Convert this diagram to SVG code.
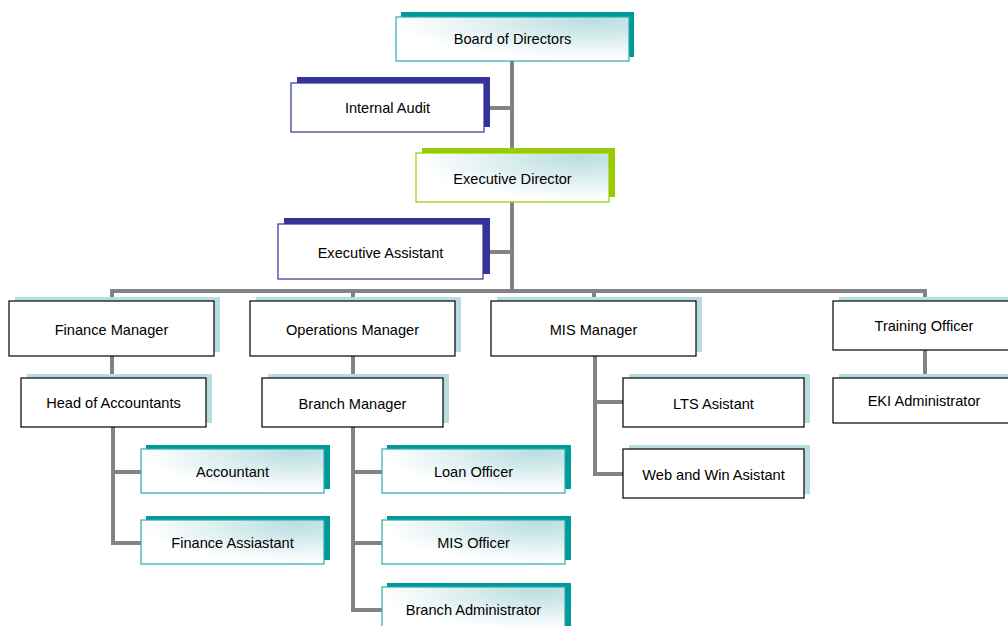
<svg xmlns="http://www.w3.org/2000/svg" width="1008" height="626" viewBox="0 0 1008 626">
<defs>
<radialGradient id="g" cx="0.85" cy="0.1" r="0.85">
<stop offset="0" stop-color="#BADEE1"/>
<stop offset="1" stop-color="#FFFFFF"/>
</radialGradient>
</defs>
<style>
text{font-family:"Liberation Sans",Arial,sans-serif;font-size:14.6px;fill:#000;text-anchor:middle}
.ln{fill:none;stroke:#838383;stroke-width:4;stroke-linejoin:miter}
.sT{fill:#009999}
.fT{fill:url(#g);stroke:#2FA9A9;stroke-width:1.2}
.sB{fill:#333399}
.fB{fill:#fff;stroke:#333399;stroke-width:1.2}
.sG{fill:#99CC00}
.fG{fill:url(#g);stroke:#99CC00;stroke-width:1.2}
.sL{fill:#B8DDE0}
.fK{fill:#fff;stroke:#000;stroke-width:1.2}
</style>
<rect width="1008" height="626" fill="#fff"/>
<g id="connectors">
<line class="ln" x1="512" y1="61" x2="512" y2="291"/>
<line class="ln" x1="484" y1="108" x2="512" y2="108"/>
<line class="ln" x1="483" y1="252" x2="512" y2="252"/>
<polyline class="ln" points="112,301 112,291 925,291 925,301"/>
<line class="ln" x1="353" y1="291" x2="353" y2="301"/>
<line class="ln" x1="594" y1="291" x2="594" y2="301"/>
<line class="ln" x1="112" y1="356" x2="112" y2="378"/>
<polyline class="ln" points="113,427 113,543 141,543"/>
<line class="ln" x1="113" y1="472" x2="141" y2="472"/>
<line class="ln" x1="353" y1="356" x2="353" y2="378"/>
<polyline class="ln" points="353,427 353,610 382,610"/>
<line class="ln" x1="353" y1="472" x2="382" y2="472"/>
<line class="ln" x1="353" y1="543" x2="382" y2="543"/>
<polyline class="ln" points="595,356 595,474 623,474"/>
<line class="ln" x1="595" y1="402" x2="623" y2="402"/>
<line class="ln" x1="925" y1="350" x2="925" y2="378"/>
</g>
<g id="board"><rect class="sT" x="401" y="12" width="233" height="45"/><rect class="fT" x="396" y="17" width="233" height="44"/><text x="512.5" y="44">Board of Directors</text></g>
<g id="internal-audit"><rect class="sB" x="297" y="77" width="193" height="50"/><rect class="fB" x="291" y="83" width="193" height="49"/><text x="387.5" y="113">Internal Audit</text></g>
<g id="executive-director"><rect class="sG" x="422" y="148" width="193" height="49"/><rect class="fG" x="416" y="153" width="193" height="49"/><text x="512.5" y="184">Executive Director</text></g>
<g id="executive-assistant"><rect class="sB" x="284" y="218" width="206" height="56"/><rect class="fB" x="278" y="224" width="205" height="55"/><text x="380.5" y="258">Executive Assistant</text></g>
<g id="finance-manager"><rect class="sL" x="15" y="297" width="205" height="55"/><rect class="fK" x="9" y="301" width="205" height="55"/><text x="111.5" y="335">Finance Manager</text></g>
<g id="operations-manager"><rect class="sL" x="256" y="297" width="205" height="55"/><rect class="fK" x="250" y="301" width="205" height="55"/><text x="352.5" y="335">Operations Manager</text></g>
<g id="mis-manager"><rect class="sL" x="497" y="297" width="205" height="55"/><rect class="fK" x="491" y="301" width="205" height="55"/><text x="593.5" y="335">MIS Manager</text></g>
<g id="training-officer"><rect class="sL" x="839" y="297" width="184" height="49"/><rect class="fK" x="833" y="301" width="184" height="49"/><text x="924" y="331">Training Officer</text></g>
<g id="head-of-accountants"><rect class="sL" x="27" y="374" width="185" height="49"/><rect class="fK" x="21" y="378" width="185" height="49"/><text x="113.5" y="408">Head of Accountants</text></g>
<g id="branch-manager"><rect class="sL" x="268" y="374" width="181" height="49"/><rect class="fK" x="262" y="378" width="181" height="49"/><text x="352.5" y="409">Branch Manager</text></g>
<g id="lts-asistant"><rect class="sL" x="629" y="374" width="181" height="49"/><rect class="fK" x="623" y="378" width="181" height="49"/><text x="713.5" y="409">LTS Asistant</text></g>
<g id="web-win-asistant"><rect class="sL" x="629" y="445" width="181" height="49"/><rect class="fK" x="623" y="449" width="181" height="49"/><text x="713.5" y="480">Web and Win Asistant</text></g>
<g id="eki-administrator"><rect class="sL" x="839" y="374" width="184" height="45"/><rect class="fK" x="833" y="378" width="184" height="45"/><text x="924" y="406">EKI Administrator</text></g>
<g id="accountant"><rect class="sT" x="146" y="445" width="184" height="44"/><rect class="fT" x="141" y="449" width="183" height="44"/><text x="232.5" y="477">Accountant</text></g>
<g id="finance-assiastant"><rect class="sT" x="146" y="516" width="184" height="44"/><rect class="fT" x="141" y="520" width="183" height="44"/><text x="232.5" y="548">Finance Assiastant</text></g>
<g id="loan-officer"><rect class="sT" x="387" y="445" width="184" height="44"/><rect class="fT" x="382" y="449" width="183" height="44"/><text x="473.5" y="477">Loan Officer</text></g>
<g id="mis-officer"><rect class="sT" x="387" y="516" width="184" height="44"/><rect class="fT" x="382" y="520" width="183" height="44"/><text x="473.5" y="548">MIS Officer</text></g>
<g id="branch-administrator"><rect class="sT" x="387" y="583" width="184" height="44"/><rect class="fT" x="382" y="587" width="183" height="44"/><text x="473.5" y="615">Branch Administrator</text></g>
</svg>
